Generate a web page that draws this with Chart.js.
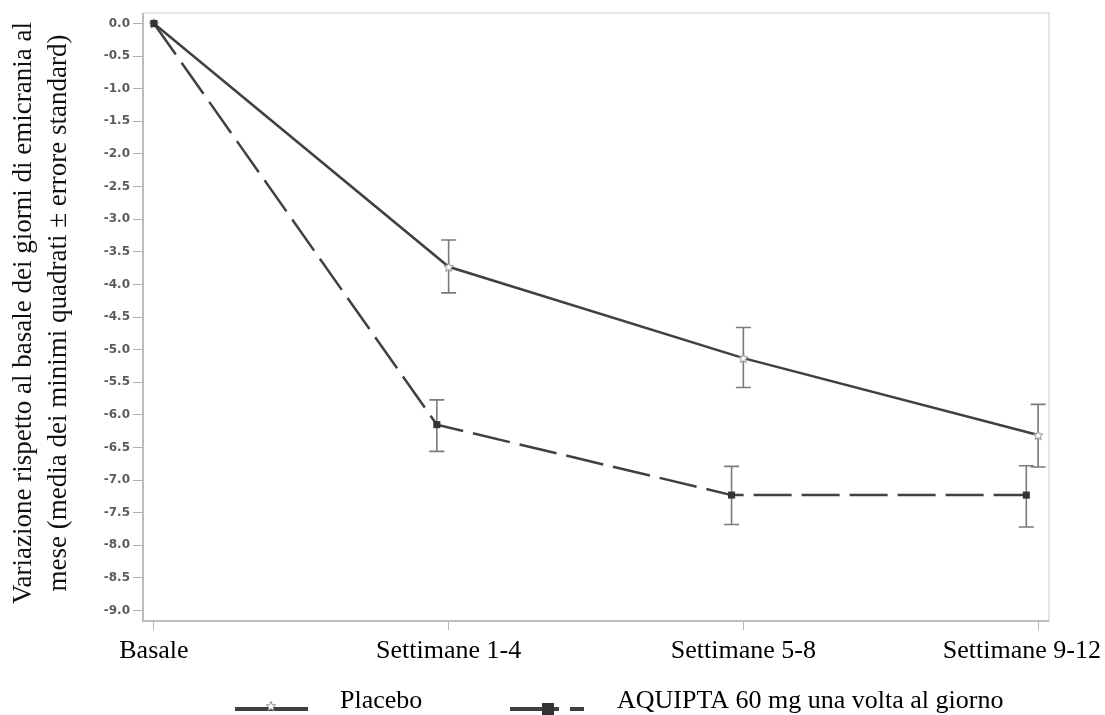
<!DOCTYPE html>
<html>
<head>
<meta charset="utf-8">
<script src="https://cdn.jsdelivr.net/npm/chart.js@4.4.1/dist/chart.umd.min.js"></script>
<style>
  html, body { margin: 0; padding: 0; background: #fff; }
  #wrap { width: 1105px; height: 715px; position: relative; }
</style>
</head>
<body>
<div id="wrap"><canvas id="c" width="1105" height="715"></canvas></div>
<script>
const categories = ['Basale', 'Settimane 1-4', 'Settimane 5-8', 'Settimane 9-12'];
const seriesLabels = ['Placebo', 'AQUIPTA 60 mg una volta al giorno'];
const placeboMean = [0, -3.73, -5.13, -6.31];
const placeboLow  = [null, -4.13, -5.58, -6.80];
const placeboHigh = [null, -3.32, -4.66, -5.84];
const aquiptaMean = [0, -6.15, -7.23, -7.23];
const aquiptaLow  = [null, -6.56, -7.68, -7.72];
const aquiptaHigh = [null, -5.77, -6.79, -6.78];
const yTicks = [0.0, -0.5, -1.0, -1.5, -2.0, -2.5, -3.0, -3.5, -4.0, -4.5, -5.0, -5.5, -6.0, -6.5, -7.0, -7.5, -8.0, -8.5, -9.0];
const yTitle = ['Variazione rispetto al basale dei giorni di emicrania al', 'mese (media dei minimi quadrati \u00b1 errore standard)'];

const DODGE = 0.04;
const LINE_COLOR = '#404040';
const ERR_COLOR = '#7a7a7a';
const SERIF = '"Liberation Serif", "Times New Roman", serif';

function makeStar(size, stroke) {
  const cv = document.createElement('canvas');
  cv.width = size; cv.height = size;
  const g = cv.getContext('2d');
  const cx = size / 2, cy = size / 2 + 0.5, R = size / 2 - 1, r = R * 0.45;
  g.beginPath();
  for (let k = 0; k < 10; k++) {
    const ang = -Math.PI / 2 + k * Math.PI / 5;
    const rad = k % 2 === 0 ? R : r;
    const px = cx + rad * Math.cos(ang), py = cy + rad * Math.sin(ang);
    if (k === 0) g.moveTo(px, py); else g.lineTo(px, py);
  }
  g.closePath();
  g.fillStyle = '#ffffff';
  g.fill();
  g.strokeStyle = stroke;
  g.lineWidth = 1;
  g.stroke();
  return cv;
}
const starImg = makeStar(12, '#8a8a8a');

const placeboPts = placeboMean.map((v, i) => ({ x: i, y: v }));
const aquiptaPts = aquiptaMean.map((v, i) => ({ x: i === 0 ? i : i - DODGE, y: v }));

const errorBars = [
  { low: placeboLow, high: placeboHigh, dodge: 0 },
  { low: aquiptaLow, high: aquiptaHigh, dodge: DODGE }
];

const errorPlugin = {
  id: 'errorBars',
  beforeDatasetsDraw(chart) {
    const { ctx, scales: { x, y } } = chart;
    ctx.save();
    ctx.strokeStyle = ERR_COLOR;
    ctx.lineWidth = 1.6;
    errorBars.forEach(eb => {
      eb.low.forEach((lo, i) => {
        const hi = eb.high[i];
        if (lo === null || hi === null) return;
        const px = x.getPixelForValue(i === 0 ? i : i - eb.dodge);
        const py1 = y.getPixelForValue(lo), py2 = y.getPixelForValue(hi);
        ctx.beginPath();
        ctx.moveTo(px, py1); ctx.lineTo(px, py2);
        ctx.moveTo(px - 7.5, py1); ctx.lineTo(px + 7.5, py1);
        ctx.moveTo(px - 7.5, py2); ctx.lineTo(px + 7.5, py2);
        ctx.stroke();
      });
    });
    ctx.restore();
  }
};

const framePlugin = {
  id: 'frame',
  beforeDatasetsDraw(chart) {
    const { ctx, chartArea: a } = chart;
    ctx.save();
    ctx.strokeStyle = '#d2d2d2';
    ctx.lineWidth = 1.2;
    ctx.beginPath();
    ctx.moveTo(a.left, a.top); ctx.lineTo(a.right, a.top); ctx.lineTo(a.right, a.bottom);
    ctx.stroke();
    ctx.strokeStyle = '#bdbdbd';
    ctx.lineWidth = 2;
    ctx.beginPath();
    ctx.moveTo(a.left, a.top); ctx.lineTo(a.left, a.bottom); ctx.lineTo(a.right, a.bottom);
    ctx.stroke();
    ctx.restore();
  }
};

const textPlugin = {
  id: 'texts',
  afterDraw(chart) {
    const { ctx, scales: { x } } = chart;
    const W = chart.width;
    ctx.save();
    // x category labels
    ctx.fillStyle = '#000';
    ctx.font = '26px ' + SERIF;
    ctx.textBaseline = 'alphabetic';
    ctx.textAlign = 'left';
    categories.forEach((c, i) => {
      const w = ctx.measureText(c).width;
      let left = x.getPixelForValue(i) - w / 2;
      if (left + w > W - 4) left = W - 4 - w;
      ctx.fillText(c, left, 658);
    });
    // y-axis title
    ctx.fillStyle = '#111';
    ctx.font = '27px ' + SERIF;
    ctx.textAlign = 'center';
    ctx.textBaseline = 'alphabetic';
    const cy = 313;
    [31, 66].forEach((bx, k) => {
      ctx.save();
      ctx.translate(bx, cy);
      ctx.rotate(-Math.PI / 2);
      ctx.fillText(yTitle[k], 0, 0);
      ctx.restore();
    });
    // legend
    const ly = 709;
    ctx.strokeStyle = LINE_COLOR;
    ctx.lineWidth = 4;
    ctx.beginPath(); ctx.moveTo(235, ly); ctx.lineTo(308, ly); ctx.stroke();
    ctx.drawImage(starImg, 271 - 6, ly - 9, 12, 12);
    ctx.beginPath(); ctx.moveTo(510, ly); ctx.lineTo(559, ly); ctx.stroke();
    ctx.beginPath(); ctx.moveTo(570, ly); ctx.lineTo(584, ly); ctx.stroke();
    ctx.fillStyle = '#333';
    ctx.fillRect(548 - 6, ly - 6, 12, 12);
    ctx.fillStyle = '#000';
    ctx.font = '26px ' + SERIF;
    ctx.textAlign = 'left';
    ctx.textBaseline = 'alphabetic';
    ctx.fillText(seriesLabels[0], 340, 708);
    ctx.fillText(seriesLabels[1], 617, 708);
    ctx.restore();
  }
};

new Chart(document.getElementById('c'), {
  type: 'line',
  data: {
    datasets: [
      {
        label: seriesLabels[0],
        data: placeboPts,
        borderColor: LINE_COLOR,
        borderWidth: 2.5,
        pointStyle: starImg,
        pointRadius: 6,
        pointHoverRadius: 6,
        tension: 0,
        fill: false,
        order: 1
      },
      {
        label: seriesLabels[1],
        data: aquiptaPts,
        borderColor: LINE_COLOR,
        borderWidth: 2.5,
        borderDash: [38, 10],
        pointStyle: 'rect',
        pointRadius: 5,
        pointHoverRadius: 5,
        pointBackgroundColor: '#333',
        pointBorderColor: '#333',
        pointBorderWidth: 0,
        tension: 0,
        fill: false,
        order: 0
      }
    ]
  },
  options: {
    responsive: false,
    animation: false,
    layout: { padding: { top: 13, right: 56, left: 0, bottom: 0 } },
    plugins: { legend: { display: false }, tooltip: { enabled: false } },
    scales: {
      x: {
        type: 'linear',
        min: -0.037,
        max: 3.037,
        afterBuildTicks: axis => { axis.ticks = categories.map((c, i) => ({ value: i })); },
        afterFit: axis => { axis.height = 94; },
        ticks: { display: false, autoSkip: false },
        grid: { drawOnChartArea: false, drawTicks: true, tickLength: 9, color: '#b5b5b5', lineWidth: 1 },
        border: { display: false }
      },
      y: {
        type: 'linear',
        min: -9.16,
        max: 0.16,
        afterBuildTicks: axis => { axis.ticks = yTicks.map(v => ({ value: v })); },
        afterFit: axis => { axis.width = 143; },
        ticks: {
          callback: v => v.toFixed(1),
          font: { family: '"DejaVu Sans", sans-serif', size: 12, weight: 'bold' },
          color: '#5c5c5c',
          padding: 3,
          autoSkip: false
        },
        grid: { drawOnChartArea: false, drawTicks: true, tickLength: 10, color: '#b0b0b0', lineWidth: 1 },
        border: { display: false }
      }
    }
  },
  plugins: [errorPlugin, framePlugin, textPlugin]
});
</script>
</body>
</html>
